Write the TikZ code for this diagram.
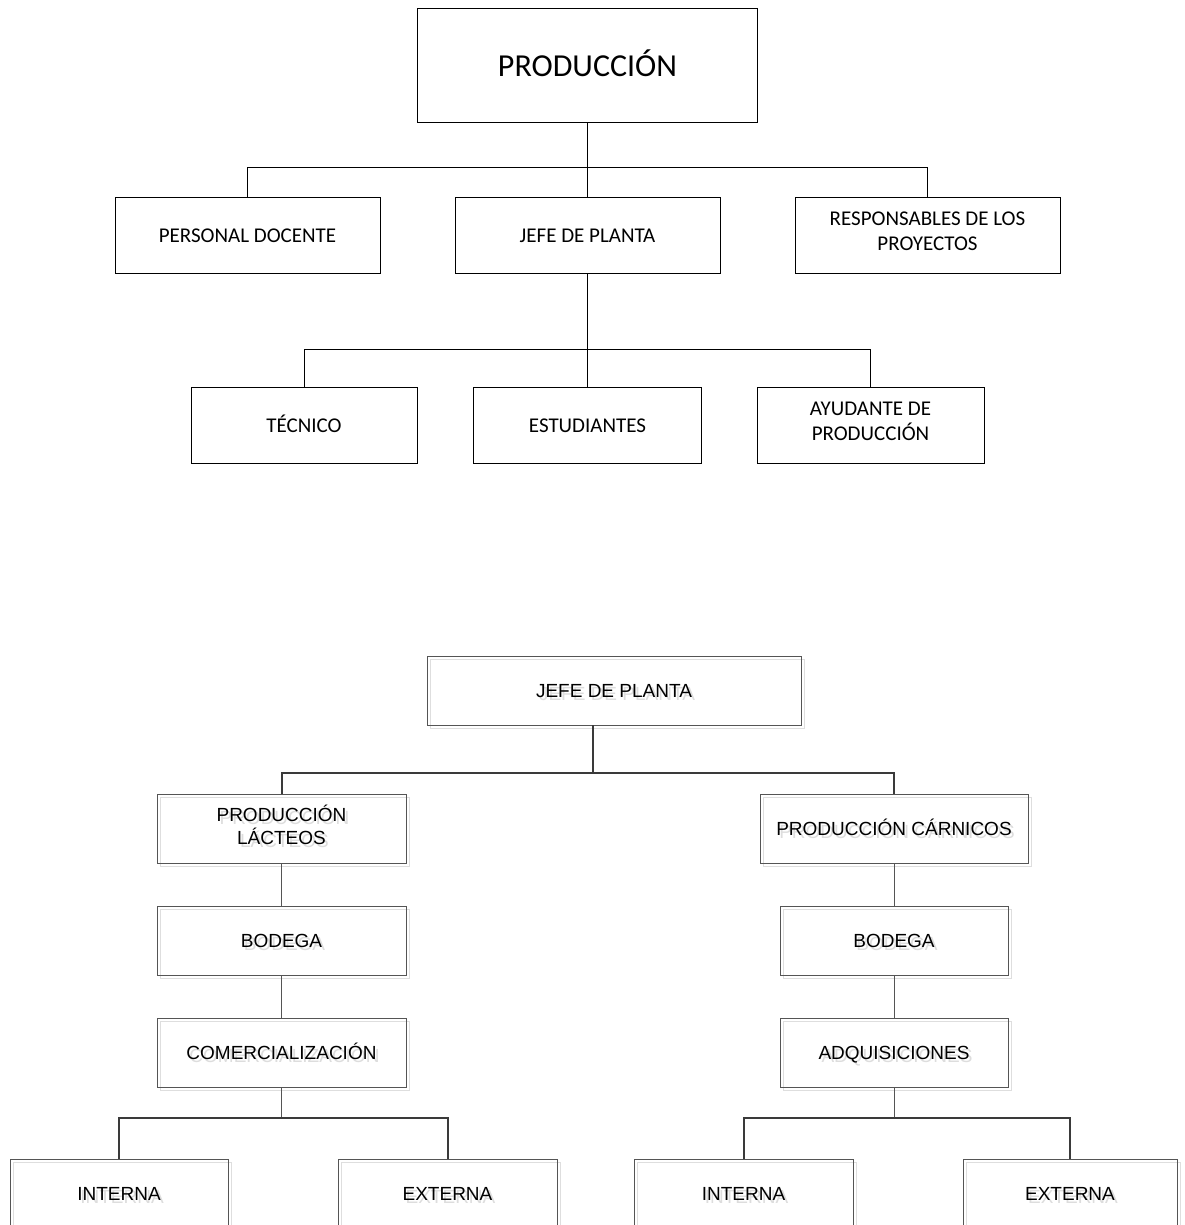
\documentclass[tikz,border=0pt]{standalone}
\usepackage{fontspec}
\newfontfamily\calib{Carlito}
\newfontfamily\arialf{Liberation Sans}
\definecolor{boxgray}{HTML}{555555}
\definecolor{linegray}{HTML}{3A3A3A}
\definecolor{shgray}{HTML}{DEDEDE}
\definecolor{shtext}{HTML}{DDDDDD}
\newcommand\mystrut{\rule[-0.4em]{0pt}{1.5em}}
\newcommand\myflatstrut{\rule{0pt}{0.5em}}
\tikzset{
  centred/.style={execute at begin node=\mystrut, execute at end node=\mystrut},
  twoline/.style={execute at end node=\myflatstrut},
  tbox/.style={centred, draw=black, line width=0.9pt, inner sep=1pt, align=center,
    font=\calib\fontsize{21}{25}\selectfont, minimum width=265pt, minimum height=76pt},
  bbox/.style={centred, draw=boxgray, line width=0.9pt, inner sep=1pt, align=center,
    font=\arialf\fontsize{19}{23}\selectfont},
  bshadow/.style={centred, draw=shgray, line width=0.9pt, inner sep=1pt, align=center, text=shtext,
    font=\arialf\fontsize{19}{23}\selectfont},
  thinl/.style={draw=black, line width=0.8pt},
  thickl/.style={draw=black, line width=1.8pt},
  thickg/.style={draw=linegray, line width=2pt},
  thing/.style={draw=boxgray, line width=0.8pt},
}
\newcommand\bnode[6][]{%
  \node[bshadow, #1, minimum width=#4, minimum height=#5] at ([shift={(3,3)}]#3) {#6};
  \node[bbox, #1, minimum width=#4, minimum height=#5] (#2) at (#3) {#6};
}
\begin{document}
\begin{tikzpicture}[x=1pt,y=-1pt]
\useasboundingbox (0,0) rectangle (1184,1225);
\fill[white] (0,0) rectangle (1184,1225);
\clip (0,0) rectangle (1184,1225);

% ---------- top chart ----------
\node[tbox, minimum width=340pt, minimum height=114pt, font=\calib\fontsize{32}{36}\selectfont] (prod) at (587.5,65) {PRODUCCIÓN};
\node[tbox] (pd) at (247.5,235) {PERSONAL DOCENTE};
\node[tbox] (jp) at (587.5,235) {JEFE DE PLANTA};
\node[tbox, twoline] (rp) at (927.5,235) {RESPONSABLES DE LOS\\PROYECTOS};
\node[tbox, minimum width=226pt] (tec) at (304,425) {TÉCNICO};
\node[tbox, minimum width=228pt] (est) at (587.5,425) {ESTUDIANTES};
\node[tbox, twoline, minimum width=227pt] (ayu) at (870.5,425) {AYUDANTE DE\\PRODUCCIÓN};

\draw[thinl] (pd.north) -- ++(0,-29) -| (rp.north);
\draw[thickl] (prod.south) -- (jp.north);
\draw[thinl] (tec.north) -- ++(0,-37) -| (ayu.north);
\draw[thickl] (jp.south) -- (est.north);

% ---------- bottom chart ----------
\bnode{bjp}{614,690.5}{374pt}{69pt}{JEFE DE PLANTA}
\bnode[twoline]{pl}{281.5,828.5}{249pt}{69pt}{PRODUCCIÓN\\LÁCTEOS}
\bnode{pc}{894,828.5}{268pt}{69pt}{PRODUCCIÓN CÁRNICOS}
\bnode{bl}{281.5,940.5}{249pt}{69pt}{BODEGA}
\bnode{br}{894,940.5}{228pt}{69pt}{BODEGA}
\bnode{com}{281.5,1052.5}{249pt}{69pt}{COMERCIALIZACIÓN}
\bnode{adq}{894,1052.5}{228pt}{69pt}{ADQUISICIONES}
\bnode{il}{119,1193.5}{218pt}{69pt}{INTERNA}
\bnode{el}{447.5,1193.5}{219pt}{69pt}{EXTERNA}
\bnode{ir}{743.5,1193.5}{219pt}{69pt}{INTERNA}
\bnode{er}{1070,1193.5}{214pt}{69pt}{EXTERNA}

\coordinate (j) at (593,773);
\coordinate (jl) at (281.5,1118);
\coordinate (jr) at (894,1118);

\draw[thickg] (bjp.south -| j) -- (j);
\draw[thickg] (pl.north) |- (j) -| (pc.north);
\draw[thing] (pl.south) -- (bl.north);
\draw[thing] (bl.south) -- (com.north);
\draw[thing] (pc.south) -- (br.north);
\draw[thing] (br.south) -- (adq.north);
\draw[thing] (com.south) -- (jl);
\draw[thing] (adq.south) -- (jr);
\draw[thickg] (il.north) |- (jl) -| (el.north);
\draw[thickg] (ir.north) |- (jr) -| (er.north);
\end{tikzpicture}
\end{document}
